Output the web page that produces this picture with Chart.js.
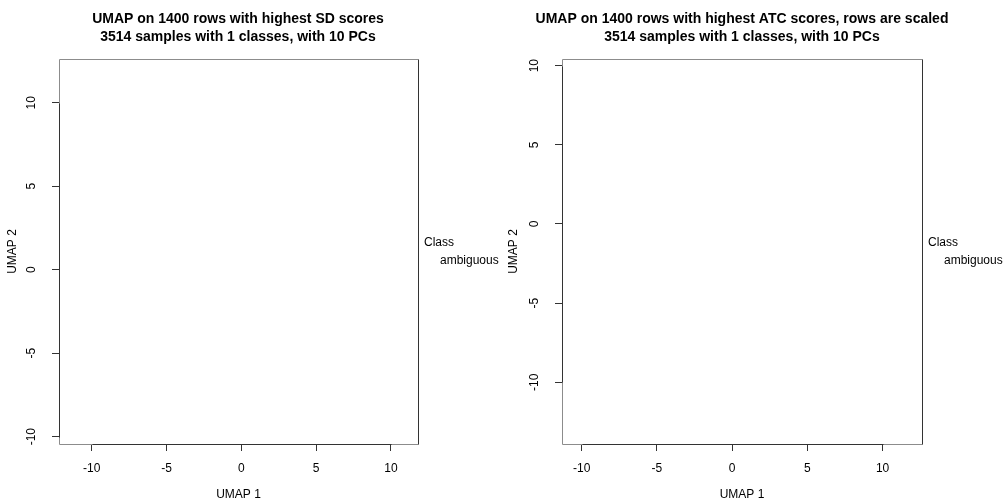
<!DOCTYPE html>
<html>
<head>
<meta charset="utf-8">
<script src="https://cdn.jsdelivr.net/npm/chart.js@4.4.0/dist/chart.umd.min.js"></script>
<style>
  html, body { margin: 0; padding: 0; background: #fff; }
  #wrap { position: relative; width: 1008px; height: 504px; overflow: hidden; }
  #wrap canvas { position: absolute; top: 0; }
</style>
</head>
<body>
<div id="wrap">
  <canvas id="umap-sd" width="528" height="504" style="left:-26px"></canvas>
  <canvas id="umap-atc" width="528" height="504" style="left:478px"></canvas>
</div>
<script>
const tickValues = [-10, -5, 0, 5, 10];
const classNames = ['ambiguous'];
const classColors = ['#000000'];

// umap coordinates of the samples - the reference panels show no points at all
const sdUmapX = [];
const sdUmapY = [];
const atcUmapX = [];
const atcUmapY = [];

const sdTitle = ['UMAP on 1400 rows with highest SD scores', '3514 samples with 1 classes, with 10 PCs'];
const atcTitle = ['UMAP on 1400 rows with highest ATC scores, rows are scaled', '3514 samples with 1 classes, with 10 PCs'];

const sdLimitsX = [-12.19, 11.81];
const sdLimitsY = [-10.44, 12.62];
const atcLimitsX = [-11.31, 12.62];
const atcLimitsY = [-13.9, 10.42];

const FONT = "'Liberation Sans', Arial, Helvetica, sans-serif";
Chart.defaults.font.family = FONT;
Chart.defaults.color = '#000';

function toPoints(xs, ys) {
    return xs.map((x, i) => ({x, y: ys[i]}));
}

// R-style box: thin grey frame, dark axis segments between first and last tick
const framePlugin = {
    id: 'frame',
    afterDraw(chart) {
        const {ctx, chartArea: a, scales} = chart;
        ctx.save();
        ctx.lineWidth = 1;
        ctx.strokeStyle = '#8c8c8c';
        ctx.beginPath();
        ctx.moveTo(a.left + 0.5, a.bottom + 0.5);
        ctx.lineTo(a.left + 0.5, a.top + 0.5);
        ctx.lineTo(a.right + 0.5, a.top + 0.5);
        ctx.moveTo(a.left + 0.5, a.bottom + 0.5);
        ctx.lineTo(a.right + 0.5, a.bottom + 0.5);
        ctx.stroke();

        ctx.strokeStyle = '#333';
        ctx.beginPath();
        ctx.moveTo(a.right + 0.5, a.top + 0.5);
        ctx.lineTo(a.right + 0.5, a.bottom + 0.5);
        const x0 = Math.round(scales.x.getPixelForValue(tickValues[0]));
        const x1 = Math.round(scales.x.getPixelForValue(tickValues[tickValues.length - 1]));
        ctx.moveTo(x0 + 0.5, a.bottom + 0.5);
        ctx.lineTo(x1 + 0.5, a.bottom + 0.5);
        const y0 = Math.round(scales.y.getPixelForValue(tickValues[tickValues.length - 1]));
        const y1 = Math.round(scales.y.getPixelForValue(tickValues[0]));
        ctx.moveTo(a.left + 0.5, y0 + 0.5);
        ctx.lineTo(a.left + 0.5, y1 + 0.5);
        ctx.stroke();
        ctx.restore();
    }
};

// legend outside the plot, on the right, like legend(..., xpd = NA)
const classLegend = {
    id: 'classLegend',
    afterDraw(chart) {
        const {ctx, chartArea: a} = chart;
        const mid = (a.top + a.bottom) / 2;
        ctx.save();
        ctx.font = '12px ' + FONT;
        ctx.fillStyle = '#000';
        ctx.textAlign = 'left';
        ctx.textBaseline = 'alphabetic';
        ctx.fillText('Class', a.right + 6, mid - 6);
        chart.data.datasets.forEach((ds, i) => {
            ctx.fillText(ds.label, a.right + 22, mid + 12.5 + i * 14.4);
        });
        ctx.restore();
    }
};

function makeUmap(id, title, xs, ys, limX, limY, axisWidth, rightWidth, yTitlePad) {
    const ctx = document.getElementById(id).getContext('2d');
    return new Chart(ctx, {
        type: 'scatter',
        data: {
            datasets: classNames.map((name, i) => ({
                label: name,
                data: toPoints(xs, ys),
                backgroundColor: classColors[i],
                pointRadius: 2
            }))
        },
        options: {
            responsive: false,
            animation: false,
            layout: { padding: 0 },
            plugins: {
                legend: { display: false },
                tooltip: { enabled: false },
                title: {
                    display: true,
                    text: title,
                    color: '#000',
                    font: { size: 14, weight: 'bold', lineHeight: '18px' },
                    padding: { top: 10, bottom: 13 }
                }
            },
            scales: {
                x: {
                    type: 'linear',
                    min: limX[0],
                    max: limX[1],
                    afterBuildTicks: s => { s.ticks = tickValues.map(v => ({value: v})); },
                    afterFit: s => { s.height = 60; },
                    border: { display: false },
                    grid: { drawOnChartArea: false, tickLength: 7, color: '#333' },
                    ticks: { padding: 10, autoSkip: false, maxRotation: 0, font: { size: 12 }, callback: v => String(v) },
                    title: { display: true, text: 'UMAP 1', font: { size: 12 }, padding: { top: 0, bottom: 2 } }
                },
                y: {
                    type: 'linear',
                    min: limY[0],
                    max: limY[1],
                    afterBuildTicks: s => { s.ticks = tickValues.map(v => ({value: v})); },
                    afterFit: s => { s.width = axisWidth; },
                    border: { display: false },
                    grid: { drawOnChartArea: false, tickLength: 7, color: '#333' },
                    ticks: { padding: 12, autoSkip: false, minRotation: 90, maxRotation: 90, crossAlign: 'center', font: { size: 12 }, callback: v => String(v) },
                    title: { display: true, text: 'UMAP 2', font: { size: 12 }, padding: { top: yTitlePad, bottom: 0 } }
                },
                // empty right-hand axis that only reserves room for the legend
                legendSpace: {
                    axis: 'y',
                    position: 'right',
                    min: limY[0],
                    max: limY[1],
                    afterFit: s => { s.width = rightWidth; },
                    border: { display: false },
                    grid: { display: false },
                    ticks: { display: false }
                }
            }
        },
        plugins: [framePlugin, classLegend]
    });
}

makeUmap('umap-sd', sdTitle, sdUmapX, sdUmapY, sdLimitsX, sdLimitsY, 85, 84, 31);
makeUmap('umap-atc', atcTitle, atcUmapX, atcUmapY, atcLimitsX, atcLimitsY, 84, 84, 28);
</script>
</body>
</html>
